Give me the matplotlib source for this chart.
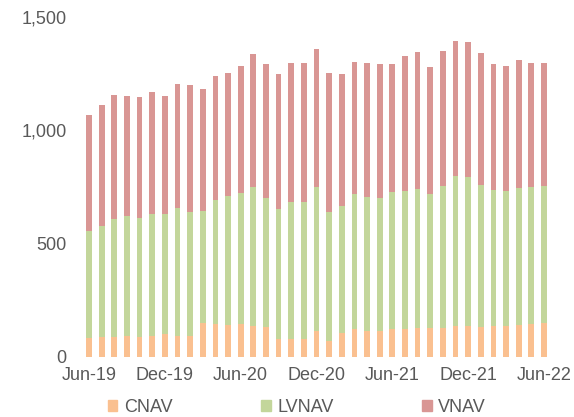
import matplotlib
matplotlib.use("Agg")
import matplotlib.pyplot as plt
from matplotlib.patches import Patch
import numpy as np

plt.rcParams['font.family'] = ['Liberation Sans', 'DejaVu Sans']

# monthly, Jun-19 .. Jun-22 (stack tops)
months = ['Jun-19', 'Jul-19', 'Aug-19', 'Sep-19', 'Oct-19', 'Nov-19', 'Dec-19',
          'Jan-20', 'Feb-20', 'Mar-20', 'Apr-20', 'May-20', 'Jun-20', 'Jul-20',
          'Aug-20', 'Sep-20', 'Oct-20', 'Nov-20', 'Dec-20', 'Jan-21', 'Feb-21',
          'Mar-21', 'Apr-21', 'May-21', 'Jun-21', 'Jul-21', 'Aug-21', 'Sep-21',
          'Oct-21', 'Nov-21', 'Dec-21', 'Jan-22', 'Feb-22', 'Mar-22', 'Apr-22',
          'May-22', 'Jun-22']
cnav_top = [82, 87, 87, 91, 89, 91, 100, 91, 91, 148, 144, 141, 147, 137, 131,
            81, 81, 78, 115, 69, 107, 122, 115, 115, 123, 122, 126, 126, 129,
            138, 135, 131, 137, 137, 142, 147, 150]
lvnav_top = [558, 580, 611, 621, 615, 633, 633, 656, 639, 643, 693, 711, 722,
             750, 702, 652, 683, 683, 749, 639, 664, 721, 706, 703, 727, 733,
             739, 718, 756, 797, 793, 758, 736, 731, 746, 749, 755]
vnav_top = [1067, 1110, 1157, 1153, 1147, 1167, 1150, 1206, 1198, 1181, 1241,
            1254, 1286, 1335, 1292, 1250, 1298, 1298, 1360, 1254, 1248, 1302,
            1298, 1291, 1291, 1330, 1344, 1279, 1351, 1395, 1391, 1342, 1292,
            1286, 1310, 1295, 1295]

cnav = np.array(cnav_top)
lvnav = np.array(lvnav_top) - cnav
vnav = np.array(vnav_top) - np.array(lvnav_top)

c_col, l_col, v_col = '#FAC090', '#C3D69B', '#D99694'
txt = '#595959'

fig = plt.figure(figsize=(5.74, 4.17), dpi=100)
ax = fig.add_axes([0.1331, 0.1439, 0.8366, 0.8153])

x = np.arange(len(months))
w = 0.45
ax.bar(x, cnav, w, color=c_col)
ax.bar(x, lvnav, w, bottom=cnav, color=l_col)
ax.bar(x, vnav, w, bottom=cnav + lvnav, color=v_col)

ax.set_xlim(-1, 37)
ax.set_ylim(0, 1500)
ax.set_yticks([0, 500, 1000, 1500])
ax.set_yticklabels(['0', '500', '1,000', '1,500'])
ax.set_xticks(x[::6])
ax.set_xticklabels(months[::6])
ax.tick_params(axis='both', length=0, labelsize=13, colors=txt)
ax.tick_params(axis='y', pad=7)
ax.tick_params(axis='x', pad=7)
for s in ax.spines.values():
    s.set_visible(False)

handles = [Patch(color=c_col, label='CNAV'),
           Patch(color=l_col, label='LVNAV'),
           Patch(color=v_col, label='VNAV')]
leg = fig.legend(handles=handles, loc='center', bbox_to_anchor=(0.517, 0.022),
                 ncol=3, frameon=False, fontsize=13, handlelength=0.55,
                 handleheight=0.55, handletextpad=0.35, columnspacing=4.9,
                 borderpad=0)
for t in leg.get_texts():
    t.set_color(txt)

fig.savefig('out.png', dpi=100)
